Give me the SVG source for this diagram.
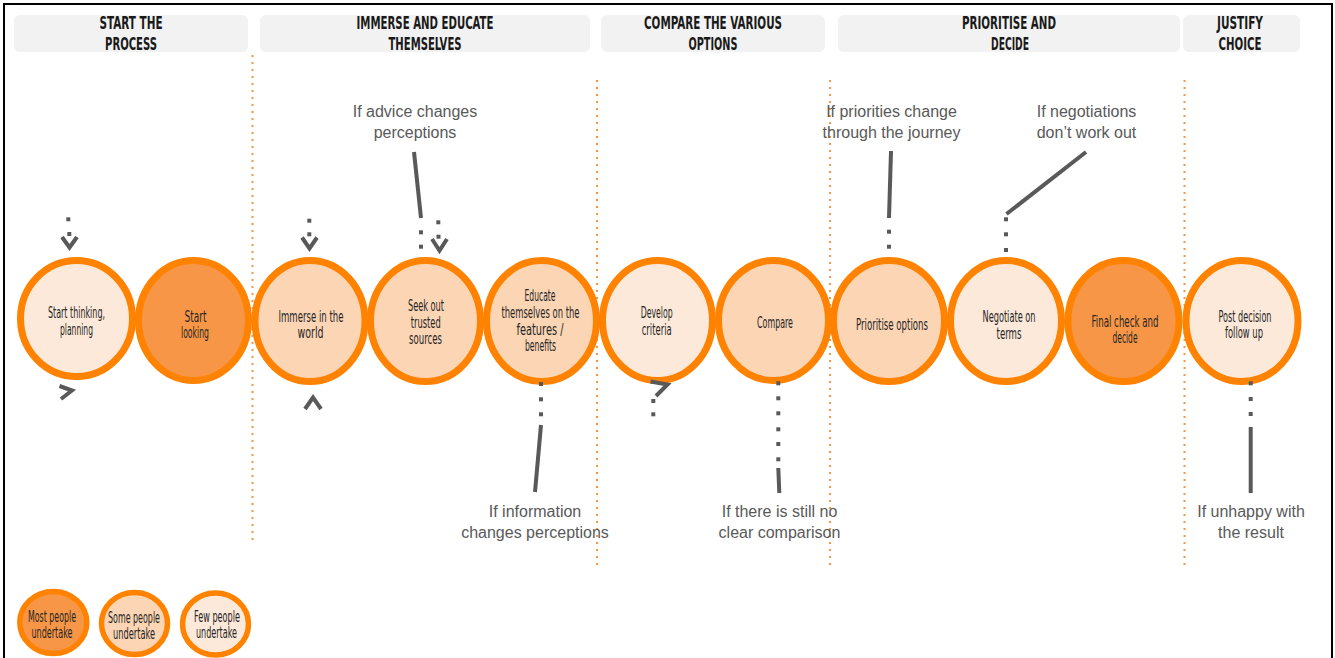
<svg xmlns="http://www.w3.org/2000/svg" width="1335" height="658" viewBox="0 0 1335 658">
<style>
.frame{fill:none;stroke:#000;stroke-width:2}
.hbox{fill:#f2f2f2}
.hdr{font-family:"DejaVu Sans Condensed","Liberation Sans Narrow","DejaVu Sans",sans-serif;font-weight:bold;font-size:18px;fill:#1a1a1a;text-anchor:middle}
.ring{stroke:#ff8200;stroke-width:7}
.lring{stroke:#ff8200;stroke-width:5.5}
.most{fill:#f79646}
.some{fill:#fcd5b5}
.few{fill:#fde9d9}
.lbl{font-family:"DejaVu Sans Condensed","Liberation Sans Narrow","DejaVu Sans",sans-serif;font-size:15px;fill:#262626;text-anchor:middle}
.ann{font-family:"Liberation Sans",Arial,sans-serif;font-size:16px;fill:#595959;text-anchor:middle}
.div{stroke:#f79646;stroke-width:2;stroke-dasharray:2 5;fill:none}
.cn{stroke:#595959;stroke-width:4;fill:none}
.chev{stroke:#595959;stroke-width:4;fill:none;stroke-linejoin:miter}
.dot{fill:#595959}
</style>
<rect class="frame" x="4" y="4" width="1328" height="700"/>

<g id="headers">
  <g id="h-start">
    <rect class="hbox" x="14" y="15" width="234" height="37" rx="6"/>
    <text class="hdr" x="131" y="29" textLength="63" lengthAdjust="spacingAndGlyphs">START THE</text>
    <text class="hdr" x="131" y="50" textLength="52" lengthAdjust="spacingAndGlyphs">PROCESS</text>
  </g>
  <g id="h-immerse">
    <rect class="hbox" x="260" y="15" width="330" height="37" rx="6"/>
    <text class="hdr" x="425" y="29" textLength="137" lengthAdjust="spacingAndGlyphs">IMMERSE AND EDUCATE</text>
    <text class="hdr" x="425" y="50" textLength="73" lengthAdjust="spacingAndGlyphs">THEMSELVES</text>
  </g>
  <g id="h-compare">
    <rect class="hbox" x="601" y="15" width="224" height="37" rx="6"/>
    <text class="hdr" x="713" y="29" textLength="138" lengthAdjust="spacingAndGlyphs">COMPARE THE VARIOUS</text>
    <text class="hdr" x="713" y="50" textLength="49" lengthAdjust="spacingAndGlyphs">OPTIONS</text>
  </g>
  <g id="h-prioritise">
    <rect class="hbox" x="838" y="15" width="342" height="37" rx="6"/>
    <text class="hdr" x="1009" y="29" textLength="94" lengthAdjust="spacingAndGlyphs">PRIORITISE AND</text>
    <text class="hdr" x="1010" y="50" textLength="38" lengthAdjust="spacingAndGlyphs">DECIDE</text>
  </g>
  <g id="h-justify">
    <rect class="hbox" x="1183" y="15" width="117" height="37" rx="6"/>
    <text class="hdr" x="1240" y="29" textLength="46" lengthAdjust="spacingAndGlyphs">JUSTIFY</text>
    <text class="hdr" x="1240" y="50" textLength="43" lengthAdjust="spacingAndGlyphs">CHOICE</text>
  </g>
</g>

<g id="dividers">
  <line class="div" x1="252.5" y1="55" x2="252.5" y2="545"/>
  <line class="div" x1="597" y1="80" x2="597" y2="570"/>
  <line class="div" x1="830" y1="80" x2="830" y2="570"/>
  <line class="div" x1="1184.5" y1="80" x2="1184.5" y2="570"/>
</g>

<g id="n-start-thinking">
  <ellipse class="ring few" cx="76.5" cy="318.5" rx="56" ry="58"/>
  <text class="lbl" x="76.5" y="318" textLength="57" lengthAdjust="spacingAndGlyphs">Start thinking,</text>
  <text class="lbl" x="76.5" y="335" textLength="33" lengthAdjust="spacingAndGlyphs">planning</text>
</g>
<g id="n-start-looking">
  <ellipse class="ring most" cx="193.5" cy="320.5" rx="55" ry="60"/>
  <text class="lbl" x="195.5" y="322" textLength="22" lengthAdjust="spacingAndGlyphs">Start</text>
  <text class="lbl" x="195" y="338" textLength="28" lengthAdjust="spacingAndGlyphs">looking</text>
</g>
<g id="n-immerse">
  <ellipse class="ring some" cx="310" cy="321" rx="55" ry="60.5"/>
  <text class="lbl" x="311" y="322" textLength="65" lengthAdjust="spacingAndGlyphs">Immerse in the</text>
  <text class="lbl" x="310.5" y="338" textLength="26" lengthAdjust="spacingAndGlyphs">world</text>
</g>
<g id="n-seek">
  <ellipse class="ring some" cx="425.5" cy="321" rx="55" ry="60.5"/>
  <text class="lbl" x="426" y="311" textLength="36" lengthAdjust="spacingAndGlyphs">Seek out</text>
  <text class="lbl" x="425.7" y="327.5" textLength="30" lengthAdjust="spacingAndGlyphs">trusted</text>
  <text class="lbl" x="425.5" y="344" textLength="33" lengthAdjust="spacingAndGlyphs">sources</text>
</g>
<g id="n-educate">
  <ellipse class="ring some" cx="541.5" cy="321" rx="55" ry="60.5"/>
  <text class="lbl" x="540" y="301" textLength="31" lengthAdjust="spacingAndGlyphs">Educate</text>
  <text class="lbl" x="540.5" y="318" textLength="78" lengthAdjust="spacingAndGlyphs">themselves on the</text>
  <text class="lbl" x="540" y="334.5" textLength="47" lengthAdjust="spacingAndGlyphs">features /</text>
  <text class="lbl" x="540.5" y="351" textLength="31" lengthAdjust="spacingAndGlyphs">benefits</text>
</g>
<g id="n-develop">
  <ellipse class="ring few" cx="657.5" cy="320.5" rx="55" ry="60"/>
  <text class="lbl" x="656.7" y="318" textLength="32" lengthAdjust="spacingAndGlyphs">Develop</text>
  <text class="lbl" x="656.7" y="335" textLength="30" lengthAdjust="spacingAndGlyphs">criteria</text>
</g>
<g id="n-compare">
  <ellipse class="ring some" cx="773.5" cy="320.5" rx="55" ry="60"/>
  <text class="lbl" x="775" y="328" textLength="36" lengthAdjust="spacingAndGlyphs">Compare</text>
</g>
<g id="n-prioritise">
  <ellipse class="ring some" cx="889" cy="321" rx="55.5" ry="60.5"/>
  <text class="lbl" x="892" y="330" textLength="72" lengthAdjust="spacingAndGlyphs">Prioritise options</text>
</g>
<g id="n-negotiate">
  <ellipse class="ring few" cx="1006" cy="321" rx="55.5" ry="60.5"/>
  <text class="lbl" x="1009" y="322" textLength="53" lengthAdjust="spacingAndGlyphs">Negotiate on</text>
  <text class="lbl" x="1009" y="339" textLength="25" lengthAdjust="spacingAndGlyphs">terms</text>
</g>
<g id="n-final">
  <ellipse class="ring most" cx="1123.5" cy="321" rx="55.5" ry="60.5"/>
  <text class="lbl" x="1125" y="327" textLength="67" lengthAdjust="spacingAndGlyphs">Final check and</text>
  <text class="lbl" x="1125" y="343" textLength="25" lengthAdjust="spacingAndGlyphs">decide</text>
</g>
<g id="n-post">
  <ellipse class="ring few" cx="1242" cy="321" rx="56" ry="60.5"/>
  <text class="lbl" x="1245" y="322" textLength="53" lengthAdjust="spacingAndGlyphs">Post decision</text>
  <text class="lbl" x="1244" y="338" textLength="38" lengthAdjust="spacingAndGlyphs">follow up</text>
</g>

<g id="annotations">
  <g id="a-advice">
    <text class="ann" x="415" y="117">If advice changes</text>
    <text class="ann" x="415" y="138">perceptions</text>
  </g>
  <g id="a-priorities">
    <text class="ann" x="891.5" y="117">If priorities change</text>
    <text class="ann" x="891.5" y="138">through the journey</text>
  </g>
  <g id="a-negotiations">
    <text class="ann" x="1086.5" y="117">If negotiations</text>
    <text class="ann" x="1086.5" y="138">don’t work out</text>
  </g>
  <g id="a-information">
    <text class="ann" x="535" y="517">If information</text>
    <text class="ann" x="535" y="538">changes perceptions</text>
  </g>
  <g id="a-comparison">
    <text class="ann" x="779.5" y="517">If there is still no</text>
    <text class="ann" x="779.5" y="538">clear comparison</text>
  </g>
  <g id="a-unhappy">
    <text class="ann" x="1251" y="517">If unhappy with</text>
    <text class="ann" x="1251" y="538">the result</text>
  </g>
</g>

<g id="connectors">
  <rect class="dot" x="66.3" y="217.3" width="4" height="4"/>
  <rect class="dot" x="67.3" y="232" width="4" height="4"/>
  <polyline class="chev" points="62,237 69.5,247.5 77,237"/>
  <polyline class="chev" points="59.5,386 72,390.5 61,399"/>
  <rect class="dot" x="307.3" y="218.7" width="4" height="4"/>
  <rect class="dot" x="307.3" y="232.3" width="4" height="4"/>
  <polyline class="chev" points="302,237.5 309.5,248.5 317,237.5"/>
  <polyline class="chev" points="305,409 313,397.5 321,409"/>
  <rect class="dot" x="436.3" y="220.3" width="4" height="4"/>
  <rect class="dot" x="436.5" y="234.7" width="4" height="4"/>
  <polyline class="chev" points="432,239 439.5,250.5 447,239"/>
  <line class="cn" x1="414" y1="152" x2="421" y2="218"/>
  <rect class="dot" x="419" y="230.3" width="4" height="4"/>
  <rect class="dot" x="419" y="244.7" width="4" height="4"/>
  <rect class="dot" x="539" y="382" width="4" height="4"/>
  <rect class="dot" x="539" y="397.3" width="4" height="4"/>
  <rect class="dot" x="539" y="412.3" width="4" height="4"/>
  <line class="cn" x1="541" y1="425" x2="535" y2="492"/>
  <polyline class="chev" points="650.5,381.5 667.5,384.5 656,396"/>
  <rect class="dot" x="651.3" y="399" width="4" height="4"/>
  <rect class="dot" x="651.3" y="412.3" width="4" height="4"/>
  <rect class="dot" x="776.3" y="381.3" width="4" height="4"/>
  <rect class="dot" x="776.3" y="396.3" width="4" height="4"/>
  <rect class="dot" x="776.3" y="411.3" width="4" height="4"/>
  <rect class="dot" x="776.3" y="427.3" width="4" height="4"/>
  <rect class="dot" x="776.3" y="442" width="4" height="4"/>
  <rect class="dot" x="776.3" y="457.3" width="4" height="4"/>
  <line class="cn" x1="778.3" y1="468" x2="779.3" y2="493"/>
  <line class="cn" x1="891" y1="151" x2="889" y2="218"/>
  <rect class="dot" x="887" y="229.7" width="4" height="4"/>
  <rect class="dot" x="887" y="244.7" width="4" height="4"/>
  <line class="cn" x1="1086" y1="152" x2="1006.5" y2="214"/>
  <rect class="dot" x="1004" y="217.3" width="4" height="4"/>
  <rect class="dot" x="1004" y="232.3" width="4" height="4"/>
  <rect class="dot" x="1004" y="248" width="4" height="4"/>
  <rect class="dot" x="1248.7" y="381.3" width="4" height="4"/>
  <rect class="dot" x="1248.7" y="397" width="4" height="4"/>
  <rect class="dot" x="1248.7" y="412" width="4" height="4"/>
  <line class="cn" x1="1250.7" y1="427" x2="1250.7" y2="493"/>
</g>

<g id="legend">
  <g id="l-most">
    <ellipse class="lring most" cx="53.3" cy="622.5" rx="33.5" ry="31"/>
    <text class="lbl" x="52" y="621.5" textLength="48" lengthAdjust="spacingAndGlyphs">Most people</text>
    <text class="lbl" x="52" y="638" textLength="41" lengthAdjust="spacingAndGlyphs">undertake</text>
  </g>
  <g id="l-some">
    <ellipse class="lring some" cx="134.5" cy="623.5" rx="33" ry="31"/>
    <text class="lbl" x="134" y="622.5" textLength="52" lengthAdjust="spacingAndGlyphs">Some people</text>
    <text class="lbl" x="134" y="639" textLength="42" lengthAdjust="spacingAndGlyphs">undertake</text>
  </g>
  <g id="l-few">
    <ellipse class="lring few" cx="215.5" cy="624" rx="33" ry="31"/>
    <text class="lbl" x="217" y="621.5" textLength="46" lengthAdjust="spacingAndGlyphs">Few people</text>
    <text class="lbl" x="216.5" y="638" textLength="41" lengthAdjust="spacingAndGlyphs">undertake</text>
  </g>
</g>
</svg>
